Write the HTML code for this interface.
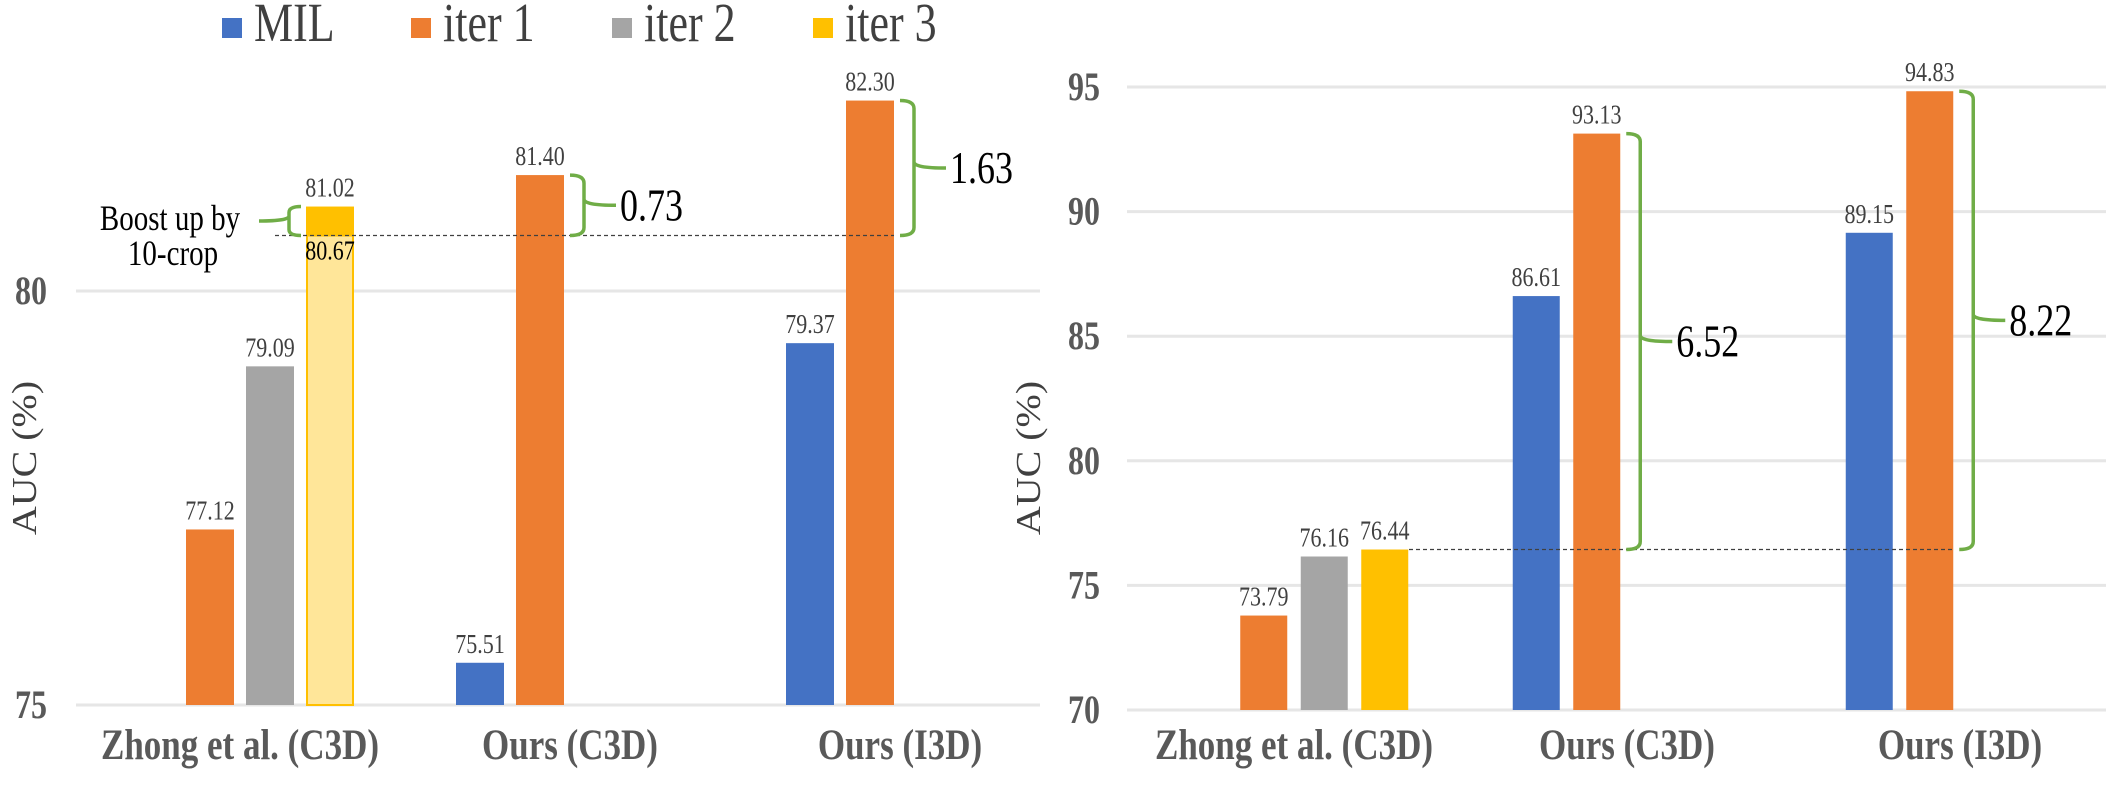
<!DOCTYPE html>
<html><head><meta charset="utf-8"><style>
html,body{margin:0;padding:0;background:#fff}
svg, svg text{font-family:"Liberation Serif","DejaVu Serif",serif}
</style></head><body>
<svg id="chart" width="2106" height="786" viewBox="0 0 2106 786" font-family="Liberation Serif, DejaVu Serif, serif">
<g id="legend"></g>
<g id="left"></g>
<g id="right"></g>
</svg>
<script>
const categories = ["Zhong et al. (C3D)", "Ours (C3D)", "Ours (I3D)"];
const seriesNames = ["MIL", "iter 1", "iter 2", "iter 3"];
const seriesColors = ["#4472C4", "#ED7D31", "#A5A5A5", "#FFC000"];
// left chart values [MIL, iter1, iter2, iter3], null = missing
const leftMIL = [null, 75.51, 79.37];
const leftIter1 = [77.12, 81.40, 82.30];
const leftIter2 = [79.09, null, null];
const leftIter3 = [81.02, null, null];
const leftIter3Base = 80.67;
const leftTicks = [75, 80];
const leftGains = ["0.73", "1.63"];
// right chart values
const rightMIL = [null, 86.61, 89.15];
const rightIter1 = [73.79, 93.13, 94.83];
const rightIter2 = [76.16, null, null];
const rightIter3 = [76.44, null, null];
const rightTicks = [70, 75, 80, 85, 90, 95];
const rightGains = ["6.52", "8.22"];

const NS = "http://www.w3.org/2000/svg";
const FF = "'Liberation Serif', 'DejaVu Serif', serif";
const SY = 1.25; // vertical stretch of text as in the reference
function mk(parent, tag, attrs, text) {
  const e = document.createElementNS(NS, tag);
  if (tag === 'text' && !attrs.transform) {
    const x = attrs.x, y = attrs.y;
    attrs.x = 0; attrs.y = 0;
    attrs.transform = `translate(${x},${y}) scale(1,${SY})`;
  }
  for (const k in attrs) e.setAttribute(k, attrs[k]);
  if (tag === 'text') e.setAttribute('font-family', FF);
  if (text !== undefined) e.textContent = text;
  parent.appendChild(e);
  return e;
}

// legend
const lg = document.getElementById('legend');
const legX = [222, 411, 612, 813];
seriesNames.forEach((n, i) => {
  const r = mk(lg, 'rect', {x: legX[i], y: 18, width: 20, height: 20, fill: seriesColors[i]});
  
  
  const t = mk(lg, 'text', {x: legX[i] + 32, y: 41, 'font-size': 44, fill: '#404040'}, n);
  
  
});

function brace(g, x0, x1, tip, yTop, yBot) {
  const ym = (yTop + yBot) / 2;
  const d = `M${x0},${yTop} Q${x1},${yTop} ${x1},${yTop + 8} L${x1},${ym - 6} Q${x1},${ym} ${tip},${ym} M${x1},${ym - 6} Q${x1},${ym} ${x1},${ym + 6} L${x1},${yBot - 8} Q${x1},${yBot} ${x0},${yBot}`;
  const p = mk(g, 'path', {d: d, fill: 'none', stroke: '#70AD47', 'stroke-width': 3.5});
  
  
  return ym;
}

function drawChart(g, cfg) {
  const y = v => cfg.y0 - (v - cfg.vmin) * cfg.ppu;
  cfg.ticks.forEach(t => {
    const l = mk(g, 'line', {x1: cfg.gx0, x2: cfg.gx1, y1: y(t), y2: y(t), stroke: '#E6E6E6', 'stroke-width': 3});
    
    
    const tx = mk(g, 'text', {x: cfg.tickX, y: y(t) + 13, 'font-size': 32, 'font-weight': 'bold', fill: '#595959', 'text-anchor': 'end'}, String(t));
    
    
  });
  const yl = mk(g, 'text', {x: 0, y: 0, 'font-size': 32, fill: '#404040', 'text-anchor': 'middle', transform: `translate(${cfg.ylabX},${cfg.ylabY}) rotate(-90) scale(1.25,1.1)`}, 'AUC (%)');
  
  
  const series = [cfg.mil, cfg.it1, cfg.it2, cfg.it3];
  const pos = {};
  categories.forEach((c, ci) => {
    const cx = cfg.cx0 + ci * cfg.step;
    const ct = mk(g, 'text', {x: cx, y: 759, 'font-size': 35, 'font-weight': 'bold', fill: '#595959', 'text-anchor': 'middle'}, c);
    
    
    series.forEach((s, si) => {
      const v = s[ci];
      if (v === null) return;
      const bx = cx + (si - 2) * cfg.pitch + (cfg.pitch - cfg.bw) / 2;
      pos[ci + '_' + si] = {x: bx, top: y(v)};
      if (cfg.split && si === 3) {
        const r2 = mk(g, 'rect', {x: bx + 1, y: y(cfg.split), width: cfg.bw - 2, height: cfg.y0 - y(cfg.split), fill: '#FFE699', stroke: '#FFC000', 'stroke-width': 2});
        
        
        const r = mk(g, 'rect', {x: bx, y: y(v), width: cfg.bw, height: y(cfg.split) - y(v), fill: seriesColors[3]});
        
        
        const t2 = mk(g, 'text', {x: bx + cfg.bw / 2, y: y(cfg.split) + 24, 'font-size': 22, fill: '#000', 'text-anchor': 'middle'}, cfg.split.toFixed(2));
        
        
      } else {
        const r = mk(g, 'rect', {x: bx, y: y(v), width: cfg.bw, height: cfg.y0 - y(v), fill: seriesColors[si]});
        
        
      }
      const t = mk(g, 'text', {x: bx + cfg.bw / 2, y: y(v) - 10, 'font-size': 22, fill: '#404040', 'text-anchor': 'middle'}, v.toFixed(2));
      
      
    });
  });
  const baseV = cfg.split ? cfg.split : cfg.it3[0];
  const yb = y(baseV);
  const dl = mk(g, 'line', {x1: cfg.dashX0, x2: pos['2_1'].x + cfg.bw, y1: yb, y2: yb, stroke: '#404040', 'stroke-width': 1.3, 'stroke-dasharray': '4,3'});
  
  
  [1, 2].forEach((ci, k) => {
    const p = pos[ci + '_1'];
    const x0 = p.x + cfg.bw + 6;
    const x1 = x0 + 14;
    const ym = brace(g, x0, x1, x1 + 32, p.top, yb);
    const gt = mk(g, 'text', {x: x1 + 36, y: ym + 15, 'font-size': 36, fill: '#000'}, cfg.gains[k]);
    
    
  });
  return {y, pos};
}

const L = drawChart(document.getElementById('left'), {
  y0: 705, vmin: 75, ppu: 82.8, gx0: 76, gx1: 1040, tickX: 47, ylabX: 36, ylabY: 458,
  cx0: 240, step: 330, pitch: 60, bw: 48, mil: leftMIL, it1: leftIter1, it2: leftIter2, it3: leftIter3,
  split: leftIter3Base, ticks: leftTicks, gains: leftGains, dashX0: 275
});
(function(){
  const g = document.getElementById('left');
  const p = L.pos['0_3'];
  const yT = L.y(leftIter3[0]), yB = L.y(leftIter3Base);
  const x0 = p.x - 5, x1 = x0 - 12, ym = (yT + yB) / 2;
  const d = `M${x0},${yT} Q${x1},${yT} ${x1},${yT + 6} L${x1},${ym - 5} Q${x1},${ym} ${x1 - 30},${ym} M${x1},${ym - 5} Q${x1},${ym} ${x1},${ym + 5} L${x1},${yB - 6} Q${x1},${yB} ${x0},${yB}`;
  const b = mk(g, 'path', {d: d, fill: 'none', stroke: '#70AD47', 'stroke-width': 3.5});
  
  
  const t1 = mk(g, 'text', {x: 170, y: 230, 'font-size': 29, fill: '#000', 'text-anchor': 'middle'}, 'Boost up by');
  
  
  const t2 = mk(g, 'text', {x: 173, y: 265, 'font-size': 29, fill: '#000', 'text-anchor': 'middle'}, '10-crop');
  
  
})();

drawChart(document.getElementById('right'), {
  y0: 710, vmin: 70, ppu: 24.92, gx0: 1127, gx1: 2106, tickX: 1100, ylabX: 1040, ylabY: 458,
  cx0: 1294, step: 333, pitch: 60.5, bw: 47, mil: rightMIL, it1: rightIter1, it2: rightIter2, it3: rightIter3,
  split: null, ticks: rightTicks, gains: rightGains, dashX0: 1409
});
</script>
</body></html>
